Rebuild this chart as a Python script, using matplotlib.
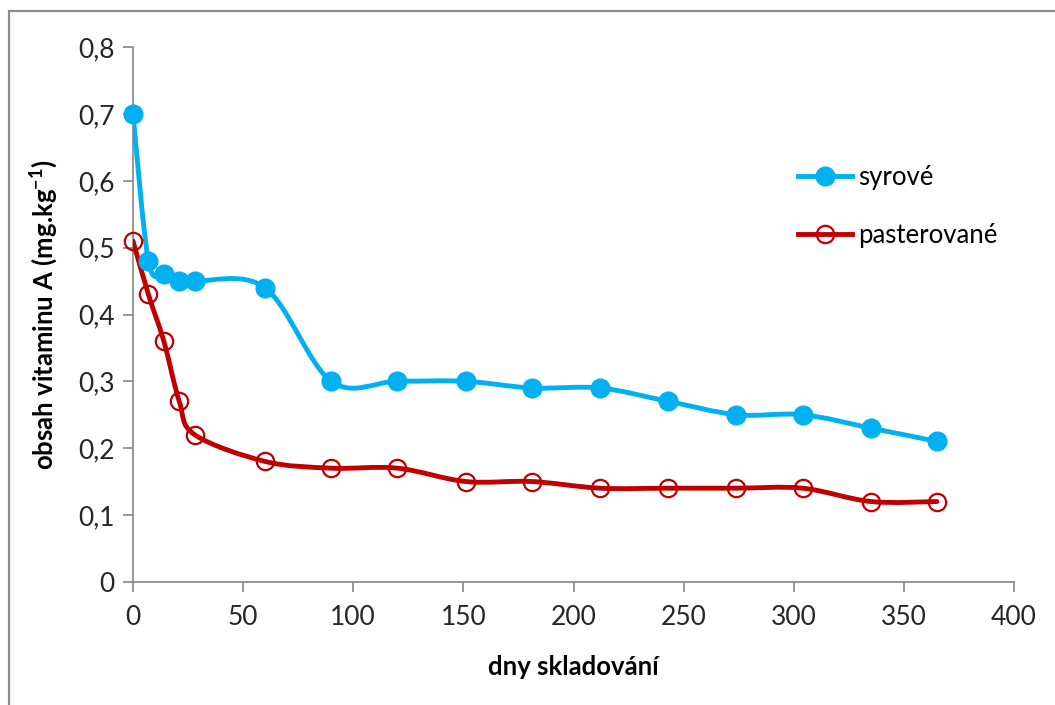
import matplotlib
matplotlib.use("Agg")
import matplotlib.pyplot as plt
from matplotlib.path import Path
from matplotlib.patches import PathPatch, Rectangle
from matplotlib.lines import Line2D
import numpy as np

plt.rcParams['font.family'] = ['Lato', 'DejaVu Sans']
plt.rcParams['mathtext.default'] = 'regular'

# storage days
days = [0, 7, 14, 21, 28, 60, 90, 120, 151, 181, 212, 243, 274, 304, 335, 365]
# vitamin A content (mg/kg)
syrove = [0.70, 0.48, 0.46, 0.45, 0.45, 0.44, 0.30, 0.30, 0.30, 0.29, 0.29, 0.27, 0.25, 0.25, 0.23, 0.21]
pasterovane = [0.51, 0.43, 0.36, 0.27, 0.22, 0.18, 0.17, 0.17, 0.15, 0.15, 0.14, 0.14, 0.14, 0.14, 0.12, 0.12]

series_names = ["syrové", "pasterované"]
colors = ["#00B0F0", "#C00000"]

xticks = [0, 50, 100, 150, 200, 250, 300, 350, 400]
yticks = [0, 0.1, 0.2, 0.3, 0.4, 0.5, 0.6, 0.7, 0.8]
ytick_labels = ["0", "0,1", "0,2", "0,3", "0,4", "0,5", "0,6", "0,7", "0,8"]


def smooth_path(xs, ys):
    """Cubic Bezier path through the points (Catmull-Rom style smoothing)."""
    pts = np.column_stack([xs, ys]).astype(float)
    n = len(pts)
    verts = [pts[0]]
    codes = [Path.MOVETO]
    for i in range(n - 1):
        p0 = pts[i - 1] if i > 0 else pts[i]
        p1 = pts[i]
        p2 = pts[i + 1]
        p3 = pts[i + 2] if i + 2 < n else pts[i + 1]
        c1 = p1 + (p2 - p0) / 6.0
        c2 = p2 - (p3 - p1) / 6.0
        verts += [c1, c2, p2]
        codes += [Path.CURVE4] * 3
    return Path(verts, codes)


fig = plt.figure(figsize=(10.55, 7.05), dpi=100)
ax = fig.add_axes([133 / 1055, 1 - 581.7 / 705, (1014 - 133) / 1055, (581.7 - 47.3) / 705])

lw = 3.5
# blue series: filled circles
ax.add_patch(PathPatch(smooth_path(days, syrove), fill=False, edgecolor=colors[0],
                       lw=lw, capstyle='round', joinstyle='round', zorder=3))
ax.plot(days, syrove, linestyle='none', marker='o', ms=13.5, color=colors[0],
        markeredgecolor=colors[0], zorder=4, clip_on=False)
# red series: open circles
ax.add_patch(PathPatch(smooth_path(days, pasterovane), fill=False, edgecolor=colors[1],
                       lw=lw, capstyle='round', joinstyle='round', zorder=3))
ax.plot(days, pasterovane, linestyle='none', marker='o', ms=12.5, markerfacecolor='none',
        markeredgecolor=colors[1], markeredgewidth=1.6, zorder=4, clip_on=False)

ax.set_xlim(0, 400)
ax.set_ylim(0, 0.8)
ax.set_xticks(xticks)
ax.set_yticks(yticks)
ax.set_yticklabels(ytick_labels)

for s in ['top', 'right']:
    ax.spines[s].set_visible(False)
for s in ['left', 'bottom']:
    ax.spines[s].set_color('#868686')
    ax.spines[s].set_linewidth(1.2)
ax.tick_params(axis='both', direction='out', length=7, width=1.2, color='#868686',
               labelsize=19, labelcolor='#262626')
ax.tick_params(axis='x', pad=10)
ax.tick_params(axis='y', pad=6)

ax.set_xlabel("dny skladování", fontsize=18.5, fontweight='bold', labelpad=18)
ax.set_ylabel("obsah vitaminu A (mg.kg$^{-1}$)", fontsize=18.5, fontweight='bold', labelpad=13)

handles = [
    Line2D([], [], color=colors[0], lw=lw, marker='o', ms=13.5),
    Line2D([], [], color=colors[1], lw=lw, marker='o', ms=12.5, markerfacecolor='none',
           markeredgewidth=1.6),
]
leg = ax.legend(handles, series_names, loc='upper left', bbox_to_anchor=(0.755, 0.779),
                frameon=False, fontsize=18.5, handlelength=2.1, handletextpad=0.25,
                labelspacing=1.25, borderaxespad=0, borderpad=0)

# outer chart frame (visible on left and top)
fig.add_artist(Rectangle((9 / 1055, -0.05), 1.2, 1.05 - 11 / 705, transform=fig.transFigure,
                         fill=False, edgecolor='#8c8c8c', lw=1.6))

fig.savefig("out.png", dpi=100)
